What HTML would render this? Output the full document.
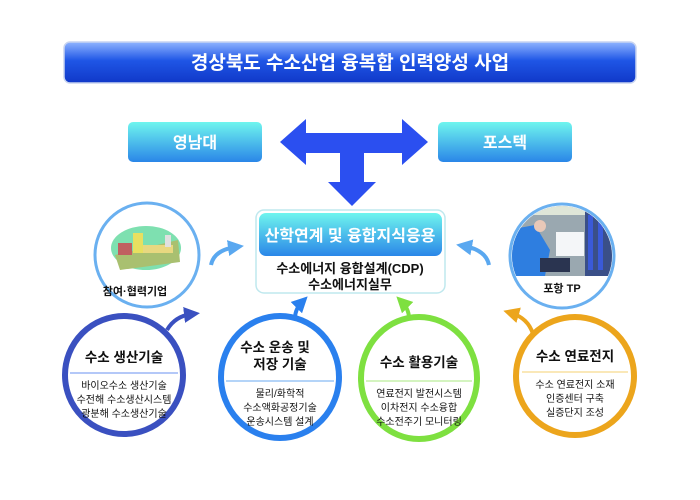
<!DOCTYPE html>
<html><head><meta charset="utf-8"><style>
html,body{margin:0;padding:0;background:#fff;}
body{width:700px;height:495px;overflow:hidden;font-family:"Liberation Sans","Noto Sans CJK KR",sans-serif;}
svg text{font-family:"Liberation Sans","Noto Sans CJK KR",sans-serif;}
</style></head><body>
<svg width="700" height="495" viewBox="0 0 700 495" xmlns="http://www.w3.org/2000/svg">
<defs>
<linearGradient id="tg" x1="0" y1="0" x2="0" y2="1">
<stop offset="0" stop-color="#8fb4ff"/><stop offset="0.45" stop-color="#1f56e6"/><stop offset="1" stop-color="#1038c8"/></linearGradient>
<linearGradient id="cg" x1="0" y1="0" x2="0" y2="1">
<stop offset="0" stop-color="#6ff5ee"/><stop offset="1" stop-color="#2a86e8"/></linearGradient>
<marker id="m1" viewBox="0 0 10 10" refX="5" refY="5" markerWidth="4" markerHeight="4" orient="auto"><path d="M0,0L10,5L0,10z" fill="#5aa8f0"/></marker>
<marker id="m2" viewBox="0 0 10 10" refX="5" refY="5" markerWidth="4" markerHeight="4" orient="auto"><path d="M0,0L10,5L0,10z" fill="#3a50c0"/></marker>
<marker id="m3" viewBox="0 0 10 10" refX="5" refY="5" markerWidth="4" markerHeight="4" orient="auto"><path d="M0,0L10,5L0,10z" fill="#2a80ee"/></marker>
<marker id="m4" viewBox="0 0 10 10" refX="5" refY="5" markerWidth="4" markerHeight="4" orient="auto"><path d="M0,0L10,5L0,10z" fill="#7ee040"/></marker>
<marker id="m5" viewBox="0 0 10 10" refX="5" refY="5" markerWidth="4" markerHeight="4" orient="auto"><path d="M0,0L10,5L0,10z" fill="#eca51c"/></marker>
<clipPath id="rc"><circle cx="562" cy="256" r="50"/></clipPath>
</defs>
<rect x="64" y="42" width="572" height="41" rx="6" fill="url(#tg)" stroke="#c8d4f0" stroke-width="1.5"/>
<text x="350" y="69" text-anchor="middle" font-size="19" font-weight="bold" fill="#fff">경상북도 수소산업 융복합 인력양성 사업</text>
<rect x="128" y="122" width="134" height="40" rx="5" fill="url(#cg)"/>
<text x="195" y="148" text-anchor="middle" font-size="16" font-weight="bold" fill="#fff">영남대</text>
<rect x="438" y="122" width="134" height="40" rx="5" fill="url(#cg)"/>
<text x="505" y="148" text-anchor="middle" font-size="16" font-weight="bold" fill="#fff">포스텍</text>
<path d="M280,142 L306,119 L306,133 L402,133 L402,119 L428,142 L402,165 L402,153 L364,153 L364,182 L376,182 L352,206 L328,182 L340,182 L340,153 L306,153 L306,165 Z" fill="#2b4ff0"/>
<rect x="256" y="210" width="189" height="83" rx="8" fill="#fff" stroke="#bfe8ee" stroke-width="1.5"/>
<rect x="259" y="213" width="183" height="43" rx="7" fill="url(#cg)"/>
<text x="350" y="241" text-anchor="middle" font-size="16" font-weight="bold" fill="#fff">산학연계 및 융합지식응용</text>
<text x="350" y="273" text-anchor="middle" font-size="13" font-weight="bold" fill="#111">수소에너지 융합설계(CDP)</text>
<text x="350" y="289" text-anchor="middle" font-size="13" font-weight="bold" fill="#111">수소에너지실무</text>
<circle cx="147" cy="255" r="52" fill="#fff" stroke="#6ab0f0" stroke-width="3"/>
<ellipse cx="146" cy="248" rx="35" ry="22" fill="#7ee0b0"/>
<path d="M115,255 L178,240 L180,262 L120,270Z" fill="#a9c070"/>
<rect x="133" y="233" width="10" height="20" fill="#e8e060"/>
<rect x="143" y="245" width="30" height="8" fill="#e8d880"/>
<rect x="118" y="243" width="14" height="12" fill="#c06060"/>
<rect x="165" y="235" width="6" height="12" fill="#e0e0e0"/>
<text x="135" y="295" text-anchor="middle" font-size="11" font-weight="bold" fill="#111">참여·협력기업</text>
<circle cx="562" cy="256" r="52" fill="#fff" stroke="#6ab0f0" stroke-width="3"/>
<g clip-path="url(#rc)">
<rect x="508" y="200" width="110" height="76" fill="#9aa8b0"/>
<rect x="508" y="200" width="110" height="15" fill="#dfe6d8"/>
<rect x="556" y="232" width="28" height="24" fill="#f4f6f8"/>
<rect x="585" y="210" width="30" height="66" fill="#3a4f88"/>
<rect x="588" y="215" width="5" height="55" fill="#3a5ad8"/>
<rect x="598" y="220" width="5" height="50" fill="#3a5ad8"/>
<path d="M508,230 L535,225 L550,250 L545,276 L508,276Z" fill="#2e7ee0"/>
<rect x="540" y="258" width="30" height="14" fill="#2a3450"/>
<circle cx="540" cy="226" r="6" fill="#e8c8b8"/>
</g>
<text x="562" y="292" text-anchor="middle" font-size="11" font-weight="bold" fill="#111">포항 TP</text>
<path d="M211,265 Q214,250 236,247" fill="none" stroke="#5aa8f0" stroke-width="4" marker-end="url(#m1)"/>
<path d="M489,265 Q486,250 464,246" fill="none" stroke="#5aa8f0" stroke-width="4" marker-end="url(#m1)"/>
<path d="M167,330 Q175,316 192,314" fill="none" stroke="#3a50c0" stroke-width="4" marker-end="url(#m2)"/>
<path d="M295,322 Q294,310 302,302" fill="none" stroke="#2a80ee" stroke-width="4" marker-end="url(#m3)"/>
<path d="M409,322 Q410,310 402,302" fill="none" stroke="#7ee040" stroke-width="4" marker-end="url(#m4)"/>
<path d="M533,334 Q528,318 511,313" fill="none" stroke="#eca51c" stroke-width="4" marker-end="url(#m5)"/>
<ellipse cx="124" cy="375" rx="59" ry="59" fill="#fff" stroke="#3a50c0" stroke-width="6"/>
<line x1="70" y1="373" x2="178" y2="373" stroke="#6a90f0" stroke-width="1"/>
<text x="124" y="362" text-anchor="middle" font-size="13.5" font-weight="bold" fill="#111">수소 생산기술</text>
<text x="124" y="389" text-anchor="middle" font-size="10" fill="#111">바이오수소 생산기술</text>
<text x="124" y="403" text-anchor="middle" font-size="10" fill="#111">수전해 수소생산시스템</text>
<text x="124" y="417" text-anchor="middle" font-size="10" fill="#111">광분해 수소생산기술</text>
<ellipse cx="280" cy="377" rx="59" ry="61" fill="#fff" stroke="#2a80ee" stroke-width="6"/>
<line x1="226" y1="381" x2="334" y2="381" stroke="#6aa8f0" stroke-width="1"/>
<text x="275" y="352" text-anchor="middle" font-size="13.5" font-weight="bold" fill="#111">수소 운송 및</text>
<text x="280" y="369" text-anchor="middle" font-size="13.5" font-weight="bold" fill="#111">저장 기술</text>
<text x="280" y="397" text-anchor="middle" font-size="10" fill="#111">물리/화학적</text>
<text x="280" y="411" text-anchor="middle" font-size="10" fill="#111">수소액화공정기술</text>
<text x="280" y="425" text-anchor="middle" font-size="10" fill="#111">운송시스템 설계</text>
<ellipse cx="419" cy="378" rx="58" ry="61" fill="#fff" stroke="#7ee040" stroke-width="6"/>
<line x1="366" y1="381" x2="472" y2="381" stroke="#a8e880" stroke-width="1"/>
<text x="419" y="367" text-anchor="middle" font-size="13.5" font-weight="bold" fill="#111">수소 활용기술</text>
<text x="419" y="397" text-anchor="middle" font-size="10" fill="#111">연료전지 발전시스템</text>
<text x="419" y="411" text-anchor="middle" font-size="10" fill="#111">이차전지 수소융합</text>
<text x="419" y="425" text-anchor="middle" font-size="10" fill="#111">수소전주기 모니터링</text>
<ellipse cx="575" cy="376" rx="59" ry="59" fill="#fff" stroke="#eca51c" stroke-width="6"/>
<line x1="522" y1="372" x2="628" y2="372" stroke="#f4d070" stroke-width="1"/>
<text x="575" y="361" text-anchor="middle" font-size="13.5" font-weight="bold" fill="#111">수소 연료전지</text>
<text x="575" y="388" text-anchor="middle" font-size="10" fill="#111">수소 연료전지 소재</text>
<text x="575" y="402" text-anchor="middle" font-size="10" fill="#111">인증센터 구축</text>
<text x="575" y="416" text-anchor="middle" font-size="10" fill="#111">실증단지 조성</text>
</svg>
</body></html>
